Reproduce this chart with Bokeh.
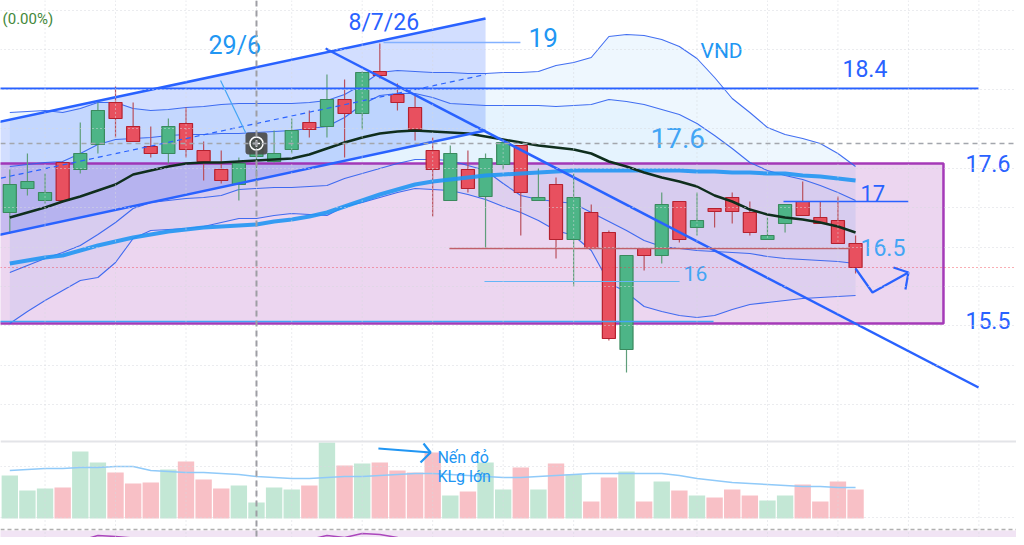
from bokeh.plotting import figure
from bokeh.models import Range1d, Span, ColumnDataSource
from bokeh.core.properties import value
from bokeh.embed import file_html
from bokeh.resources import INLINE

# ---------------- data ----------------
idx = list(range(49))
opens = [17.16, 17.40, 17.28, 17.66, 17.59, 17.84, 18.26, 18.02, 17.82, 17.75,
         18.05, 17.78, 17.59, 17.44, 17.72, 17.67, 17.79, 18.06, 18.02, 18.29,
         18.15, 18.57, 18.34, 18.21, 17.78, 17.28, 17.59, 17.32, 17.64, 17.83,
         17.28, 17.44, 16.89, 17.16, 16.96, 15.79, 16.80, 16.73, 17.27, 17.01,
         17.20, 17.31, 17.16, 16.89, 17.05, 17.27, 17.11, 17.08, 16.85]
highs = [17.59, 17.75, 17.55, 17.67, 18.06, 18.26, 18.42, 18.26, 18.02, 18.10,
         18.21, 17.87, 17.78, 17.71, 17.98, 17.98, 18.10, 18.18, 18.54, 18.49,
         18.57, 18.85, 18.45, 18.33, 17.91, 17.83, 17.78, 17.75, 17.86, 17.83,
         17.60, 17.51, 17.55, 17.24, 16.98, 16.73, 16.80, 17.36, 17.27, 17.36,
         17.20, 17.36, 17.27, 17.11, 17.24, 17.47, 17.27, 17.32, 16.93]
lows = [16.95, 17.33, 17.25, 17.26, 17.55, 17.75, 17.91, 17.87, 17.71, 17.65,
        17.71, 17.48, 17.45, 17.28, 17.45, 17.66, 17.75, 17.91, 17.91, 17.71,
        17.99, 18.50, 18.18, 17.88, 17.12, 17.28, 17.36, 16.80, 17.59, 16.93,
        17.28, 16.70, 16.42, 16.80, 15.88, 15.56, 16.58, 16.65, 16.86, 16.93,
        17.01, 17.05, 16.93, 16.89, 16.96, 17.13, 17.05, 16.85, 16.55]
closes = [17.44, 17.47, 17.36, 17.28, 17.75, 18.18, 18.10, 17.87, 17.75, 18.02,
          17.79, 17.67, 17.48, 17.65, 17.88, 17.75, 17.98, 17.99, 18.29, 18.15,
          18.56, 18.53, 18.26, 17.99, 17.59, 17.75, 17.40, 17.70, 17.86, 17.36,
          17.31, 16.89, 17.31, 16.80, 15.90, 16.73, 16.73, 17.24, 16.89, 17.08,
          17.17, 17.17, 16.96, 16.93, 17.24, 17.13, 17.05, 16.85, 16.61]
volumes = [21.5, 14, 15, 15.5, 33.5, 28, 23, 17.5, 18, 24.5,
           28.5, 19.5, 15, 16.5, 8, 15.5, 14.5, 16.5, 38, 26.5,
           27.5, 28, 24, 23, 33, 11.5, 13.5, 28, 14.5, 25.5,
           14.5, 27.5, 22, 8.5, 20.5, 23.5, 8.5, 18.5, 14, 11.5,
           10.5, 14.5, 11.5, 9, 11.5, 17, 8.5, 18.5, 14.5]
vol_ma = [24, 24.5, 25, 25, 25.5, 25.5, 26, 26, 24, 23.5,
          23, 23, 22.5, 22, 21, 20.5, 20, 20, 20.5, 21,
          21, 21.5, 22, 22.5, 22.5, 22, 21.5, 21, 20.5, 20.5,
          21, 21.5, 22, 22.5, 22.5, 22.5, 22.5, 22.5, 21.5, 20,
          19, 18, 17.5, 17, 16.5, 16, 16, 15.5, 15.5]
ma20 = [17.11, 17.16, 17.21, 17.27, 17.32, 17.38, 17.44, 17.54, 17.58, 17.62,
        17.65, 17.66, 17.66, 17.67, 17.68, 17.69, 17.70, 17.74, 17.80, 17.86,
        17.91, 17.95, 17.97, 17.98, 17.97, 17.96, 17.95, 17.92, 17.89, 17.86,
        17.83, 17.81, 17.79, 17.75, 17.67, 17.62, 17.56, 17.51, 17.47, 17.42,
        17.33, 17.27, 17.19, 17.14, 17.11, 17.09, 17.06, 17.02, 16.96]
ma50 = [16.65, 16.68, 16.71, 16.73, 16.78, 16.83, 16.87, 16.91, 16.94, 16.97,
        16.99, 17.01, 17.02, 17.03, 17.04, 17.07, 17.09, 17.12, 17.16, 17.22,
        17.28, 17.34, 17.39, 17.44, 17.47, 17.49, 17.51, 17.53, 17.54, 17.55,
        17.56, 17.57, 17.58, 17.58, 17.58, 17.58, 17.58, 17.58, 17.58, 17.57,
        17.57, 17.56, 17.56, 17.55, 17.55, 17.53, 17.52, 17.50, 17.48]
bb_up = [18.16, 18.17, 18.18, 18.16, 18.20, 18.26, 18.26, 18.20, 18.18, 18.19,
         18.21, 18.22, 18.24, 18.25, 18.25, 18.25, 18.25, 18.26, 18.28, 18.34,
         18.44, 18.56, 18.58, 18.57, 18.56, 18.56, 18.55, 18.55, 18.56, 18.56,
         18.57, 18.63, 18.66, 18.71, 18.92, 18.94, 18.93, 18.89, 18.82, 18.70,
         18.51, 18.30, 18.16, 18.01, 17.94, 17.90, 17.85, 17.75, 17.62]
bb_up_in = [17.62, 17.64, 17.66, 17.67, 17.75, 17.84, 17.89, 17.90, 17.91, 17.93,
            17.94, 17.94, 17.95, 17.95, 17.96, 17.97, 17.98, 18.00, 18.02, 18.11,
            18.24, 18.33, 18.35, 18.35, 18.31, 18.25, 18.24, 18.23, 18.23, 18.23,
            18.23, 18.22, 18.23, 18.24, 18.29, 18.27, 18.24, 18.19, 18.14, 18.05,
            17.93, 17.80, 17.66, 17.58, 17.53, 17.49, 17.43, 17.36, 17.28]
bb_lo_in = [16.56, 16.63, 16.70, 16.76, 16.83, 16.94, 17.06, 17.20, 17.26, 17.28,
            17.30, 17.31, 17.33, 17.39, 17.40, 17.41, 17.41, 17.42, 17.43, 17.50,
            17.55, 17.60, 17.65, 17.69, 17.69, 17.68, 17.63, 17.58, 17.45, 17.33,
            17.29, 17.27, 17.25, 17.16, 17.07, 16.98, 16.88, 16.82, 16.80, 16.78,
            16.77, 16.76, 16.75, 16.72, 16.70, 16.69, 16.68, 16.67, 16.65]
bb_lo = [16.05, 16.17, 16.28, 16.38, 16.48, 16.51, 16.66, 16.90, 16.98, 16.99,
         17.00, 17.02, 17.06, 17.10, 17.10, 17.13, 17.15, 17.14, 17.13, 17.22,
         17.26, 17.31, 17.36, 17.40, 17.39, 17.38, 17.34, 17.29, 17.22, 17.16,
         17.08, 16.98, 16.93, 16.78, 16.46, 16.36, 16.22, 16.17, 16.13, 16.11,
         16.13, 16.19, 16.24, 16.26, 16.28, 16.30, 16.31, 16.32, 16.33]
rsi = [58, 58.5, 59, 57.5, 60, 65, 64, 62.5, 60, 59,
       58, 57, 56, 56.5, 57, 58, 60, 61, 65, 63,
       67, 66, 63, 58, 54, 51, 50, 54, 56, 52,
       50, 48, 50, 47, 42, 48, 45, 50, 49, 50,
       49, 50, 49, 48, 51, 52, 51, 53, 48]

# grid / reference levels
grid_x = [2, 6, 10, 14, 16, 20, 24, 28, 32, 39, 43, 47, 51, 55]
grid_price = [19.18, 18.79, 18.39, 18.0, 17.6, 17.21, 16.81, 16.42, 16.03, 15.63, 15.24]
grid_vol = [26, 0.5]
vol_sep = 38.5
cross_x = 14
cross_price = 17.85
last_price = 16.61

# drawings (index, price)
box_x = [-2, 52.99]
box_y = [16.05, 17.65]
chan_x = [-1, 27.0]
chan_upper = [18.05, 19.10]
chan_lower = [16.92, 17.98]
chan_mid = [17.485, 18.54]
desc_x = [17.92, 54.98]
desc_y = [18.80, 15.41]
lvl_x0 = [-1, 43.91, 24.95, 26.94, -1, 21.21]
lvl_x1 = [54.98, 51.0, 47.71, 38.01, 39.94, 28.98]
lvl_y = [18.40, 17.27, 16.80, 16.47, 16.07, 18.86]
lvl_color = ["#2962ff", "#2962ff", "#c0606a", "#64b5f6", "#42a5f5", "#82b1ff"]
lvl_width = [2, 1.6, 1.5, 1.2, 1.5, 1.5]
call_x = [11.96, 13.38]
call_y = [18.48, 17.96]
arrow_x = [48.0, 48.96, 51.0]
arrow_y = [16.60, 16.36, 16.56]
arrow_head_x = [50.15, 51.0, 50.83]
arrow_head_y = [16.61, 16.56, 16.39]
varrow_x = [20.92, 23.88]
varrow_y = [35, 33]
varrow_head_x = [23.48, 23.88, 23.31]
varrow_head_y = [37.5, 33, 28]

labels = ["(0.00%)", "29/6", "8/7/26", "19", "VND", "18.4", "17.6", "17.6", "17", "16.5", "16", "15.5"]
label_x = [-0.41, 11.28, 19.22, 29.44, 39.2, 47.26, 36.36, 54.24, 48.28, 48.28, 38.24, 54.24]
label_y = [19.10, 18.83, 19.06, 18.91, 18.78, 18.60, 17.91, 17.65, 17.36, 16.81, 16.55, 16.08]
label_size = ["15px", "25px", "23px", "26px", "21px", "23px", "28px", "23px", "22px", "23px", "21px", "23px"]
label_color = ["#43883a", "#2196f3", "#2962ff", "#2196f3", "#2196f3", "#2962ff",
               "#42a5f5", "#2962ff", "#2962ff", "#42a5f5", "#42a5f5", "#2962ff"]
vol_labels = ["Nến đỏ", "KLg lớn"]
vol_label_x = [24.27, 24.27]
vol_label_y = [30.5, 21]

# ---------------- figure ----------------
p = figure(width=1016, height=537, x_range=Range1d(-0.528, 57.134), y_range=Range1d(13.91, 19.28),
           x_axis_type=None, y_axis_type=None, output_backend="svg", toolbar_location=None,
           min_border=0, outline_line_color=None)
p.extra_y_ranges = {"vol": Range1d(-9.5, 259), "rsi": Range1d(63, 600)}
p.background_fill_color = "white"
p.border_fill_color = "white"

FONT = value("Roboto")

# grid
for gx in grid_x:
    p.add_layout(Span(location=gx, dimension="height", line_color="#d6d8de", line_dash="1 3", line_width=1))
for gy in grid_price:
    p.add_layout(Span(location=gy, dimension="width", line_color="#d6d8de", line_dash="1 3", line_width=1))
for gv in grid_vol:
    p.add_layout(Span(location=gv, dimension="width", line_color="#d6d8de", line_dash="1 3", line_width=1,
                      y_range_name="vol"))
p.add_layout(Span(location=vol_sep, dimension="width", line_color="#e3e4e8", line_width=2, y_range_name="vol"))

# RSI pane background + line
p.quad(left=[-2], right=[60], top=[70], bottom=[0], y_range_name="rsi",
       fill_color="#f1e4f4", line_color=None)
p.add_layout(Span(location=71, dimension="width", line_color="#b0b0b0", line_dash="4 3", line_width=1.5,
                  y_range_name="rsi"))
p.line(idx, rsi, y_range_name="rsi", line_color="#ab47bc", line_width=1.5)

# Bollinger fills
p.varea(x=idx, y1=bb_lo, y2=bb_up, fill_color="#2196f3", fill_alpha=0.08)
p.varea(x=idx, y1=bb_lo_in, y2=bb_up_in, fill_color="#2196f3", fill_alpha=0.04)

# channel fill
p.patch(x=[chan_x[0], chan_x[1], chan_x[1], chan_x[0]],
        y=[chan_upper[0], chan_upper[1], chan_lower[1], chan_lower[0]],
        fill_color="#2962ff", fill_alpha=0.21, line_color=None)

# purple box
p.quad(left=[box_x[0]], right=[box_x[1]], bottom=[box_y[0]], top=[box_y[1]],
       fill_color="#9c27b0", fill_alpha=0.19, line_color="#9c27b0", line_width=2.5, line_alpha=0.9)

# price line & crosshair
p.add_layout(Span(location=last_price, dimension="width", line_color="#f23645", line_dash="1 3",
                  line_width=1.2, line_alpha=0.8))
p.add_layout(Span(location=cross_price, dimension="width", line_color="#a3a6ad", line_dash="5 4", line_width=1.5))
p.add_layout(Span(location=cross_x, dimension="height", line_color="#9e9ea4", line_dash="6 4", line_width=2))

# volume
vol_colors = ["#c3e7d5" if c >= o else "#f8c0c6" for o, c in zip(opens, closes)]
p.vbar(x=idx, width=0.93, top=volumes, bottom=0, y_range_name="vol", fill_color=vol_colors, line_color=None)
p.line(idx, vol_ma, y_range_name="vol", line_color="#90caf9", line_width=1.6)

# bands
for band in (bb_up, bb_up_in, bb_lo_in, bb_lo):
    p.line(idx, band, line_color="#2f5ff0", line_width=1.1, line_alpha=0.9)

# candles
up = [c >= o for o, c in zip(opens, closes)]
src = ColumnDataSource(dict(
    x=idx, high=highs, low=lows,
    top=[max(o, c) for o, c in zip(opens, closes)],
    bottom=[min(o, c) for o, c in zip(opens, closes)],
    fill=["#4db587" if u else "#e8505f" for u in up],
    edge=["#3a8a5e" if u else "#b5212f" for u in up],
    wick=["#5f9e7a" if u else "#b9505d" for u in up],
))
p.segment(x0="x", y0="high", x1="x", y1="low", line_color="wick", line_width=1.2, source=src)
p.vbar(x="x", width=0.74, top="top", bottom="bottom", fill_color="fill", line_color="edge",
       line_width=1.2, source=src)

# moving averages
p.line(idx, ma50, line_color="#2196f3", line_width=4, line_alpha=0.9)
p.line(idx, ma20, line_color="#0f2e1d", line_width=2.5)

# drawings
p.line(chan_x, chan_upper, line_color="#2962ff", line_width=2.5)
p.line(chan_x, chan_lower, line_color="#2962ff", line_width=2.5)
p.line(chan_x, chan_mid, line_color="#2962ff", line_width=1.2, line_dash="5 4")
p.line(desc_x, desc_y, line_color="#2962ff", line_width=2.5)
p.segment(x0=lvl_x0, x1=lvl_x1, y0=lvl_y, y1=lvl_y, line_color=lvl_color, line_width=lvl_width)
p.line(call_x, call_y, line_color="#42a5f5", line_width=1.2)
p.line(arrow_x, arrow_y, line_color="#2962ff", line_width=2.2)
p.line(arrow_head_x, arrow_head_y, line_color="#2962ff", line_width=2.2)
p.line(varrow_x, varrow_y, y_range_name="vol", line_color="#2196f3", line_width=2.2)
p.line(varrow_head_x, varrow_head_y, y_range_name="vol", line_color="#2196f3", line_width=2.2)

# crosshair icon
p.rect(x=[cross_x], y=[cross_price], width=22, height=22, width_units="screen", height_units="screen",
       fill_color="#4a4a4a", fill_alpha=0.92, line_color=None, border_radius=3)
p.scatter(x=[cross_x], y=[cross_price], size=13, marker="circle", fill_color=None,
          line_color="white", line_width=1.5)
p.scatter(x=[cross_x], y=[cross_price], size=7, marker="cross", line_color="white", line_width=1.5)

# texts
tsrc = ColumnDataSource(dict(x=label_x, y=label_y, t=labels, s=label_size, c=label_color))
p.text(x="x", y="y", text="t", text_font_size="s", text_color="c", text_font=FONT,
       text_baseline="middle", text_align="left", source=tsrc)
p.text(x=vol_label_x, y=vol_label_y, text=vol_labels, y_range_name="vol", text_font=FONT,
       text_font_size="16px", text_color="#2196f3", text_baseline="middle", text_align="left")

open("out.html", "w").write(file_html(p, INLINE))
